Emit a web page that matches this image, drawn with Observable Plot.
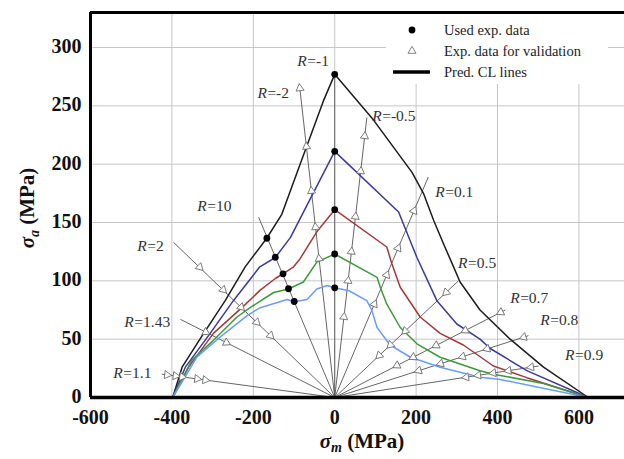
<!DOCTYPE html>
<html><head><meta charset="utf-8">
<script src="https://cdn.jsdelivr.net/npm/d3@7"></script>
<script src="https://cdn.jsdelivr.net/npm/@observablehq/plot@0.6"></script>
<style>body{margin:0;background:#fff} svg{display:block}</style>
</head><body><div id="chart"></div>
<script>
// ---- data (σm, σa in MPa) ----
const xTicks = [-600, -400, -200, 0, 200, 400, 600];
const yTicks = [0, 50, 100, 150, 200, 250, 300];

const seriesNames = ["CL1", "CL2", "CL3", "CL4", "CL5"];
const seriesColors = ["#1c1c1c", "#3a3a9c", "#a03a3a", "#3c9a3c", "#6a9cff"];

const cl1 = [[-398,0],[-375,26],[-322,55],[-269,83],[-220,112],[-167,136.5],[-130,157],[-85,200],[-28,254],[0,277],
  [95,238],[190,193],[218,175],[243,152],[267,132],[292,112],[308,99],[357,75],[431,50],[513,26],[623,0]];
const cl2 = [[-398,0],[-367,26],[-306,55],[-249,83],[-184,112],[-146,120],[-109,137],[0,211],
  [157,159],[202,120],[251,83],[300,63],[357,50],[382,42],[472,23],[623,0]];
const cl3 = [[-398,0],[-359,26],[-298,55],[-228,77],[-183,92],[-146,102],[-127,106],[-101,112],[-85,119],[-44,142],[0,161],
  [128,129],[140,115],[161,94.5],[210,69],[259,55],[316,45],[390,27],[472,17],[623,0]];
const cl4 = [[-398,0],[-351,32],[-298,49],[-240,69],[-208,77],[-150,90],[-113.5,93],[-77,99],[-44,116],[0,123],
  [104,103],[112,94.5],[128,80],[161,60],[202,46],[259,34.5],[357,23],[390,20],[513,12],[623,0]];
const cl5 = [[-398,0],[-339,34.5],[-281,52],[-216,70],[-183,77],[-117,84],[-99.5,82],[-68,84],[-44,93],[-19,96],[0,94],
  [35,91.5],[79,83],[91,75],[104,60],[136,45],[186,34.5],[259,26],[357,17.4],[403,15.7],[623,0]];
const curves = [cl1, cl2, cl3, cl4, cl5];

const usedExp = [[0,277],[0,211],[0,161],[0,123],[0,94],
  [-166.6,136.5],[-146,120.2],[-127,106],[-113.5,93.2],[-99.5,82.3]];

const rayNames = ["-2","-1","-0.5","0.1","0.5","0.7","0.8","0.9","10","2","1.43","1.1"];
const rayTips = [[-87,269],[0,277],[79,240],[230,189],[304,100],[419,75],[476,53],[501,27],[-187,154.5],[-396,133],[-379,67],[-425,20]];
const rayLabelPos = [[-190,261],[-92,288],[92,241],[247,176],[303,115],[431,85],[505,66],[566,36],[-338,164],[-485,130],[-517,65],[-544,20.6]];

const valid = [
  [-85.7,265],[-69.5,215],[-57.2,177],[-47.2,146],[-38.5,119],
  [73.7,224],[63.9,194],[51,155],[41.1,125],[32.9,100],[22.7,69],
  [194.7,160],[155.8,128],[127.8,105],[97.4,80],
  [273.6,90],[173.3,57],[136.8,45],[109.4,36],
  [407.9,73],[320.7,57.4],[249.2,44.6],[192.8,34.5],[153.1,27.4],
  [464.3,51.7],[374.5,41.7],[314.3,35],[260.4,29],[206.5,23],
  [482.6,26],[426.9,23],[389.8,21],[352.6,19],[323,17.4],
  [-331.7,111.7],[-274.1,92.3],[-229.9,77.4],[-191.6,64.5],[-157.7,53.1],
  [-317,56],[-266,47],
  [-412,19.4],[-391,18.5],[-375,17.7],[-338,16],[-318,15]
];

// ---- layout ----
const W = 624, H = 459, mL = 90, mT = 12, mB = 62, mR = 0;
const xDom = [-600, 712], yDom = [0, 330];
const kx = (W - mL - mR) / (xDom[1] - xDom[0]);
const ky = (H - mT - mB) / (yDom[1] - yDom[0]);

const curveRows = curves.flatMap((c, i) => c.map(([sm, sa]) => ({sm, sa, s: seriesNames[i]})));
const rays = rayTips.map(([sm, sa], i) => ({sm, sa, r: rayNames[i]}));
const labels = rayLabelPos.map(([sm, sa], i) => ({sm, sa, r: rayNames[i]}));
const dots = usedExp.map(([sm, sa]) => ({sm, sa}));
const tris = valid.map(([sm, sa]) => {
  const sx = sm * kx, sy = sa * ky;
  let a = Math.atan2(sx, sy) * 180 / Math.PI;
  if (Math.abs(sx) > sy) a += 180;
  return {sm, sa, rot: a};
});

const serif = "'Liberation Serif', 'Times New Roman', serif";

const chart = Plot.plot({
  width: W, height: H,
  marginLeft: mL, marginTop: mT, marginBottom: mB, marginRight: mR,
  style: {fontFamily: serif, background: "#fff"},
  x: {domain: xDom, label: null},
  y: {domain: yDom, label: null},
  color: {domain: seriesNames, range: seriesColors},
  marks: [
    Plot.gridX(xTicks.filter(v => v > -600), {stroke: "#c6c6c6", strokeOpacity: 1, strokeWidth: 1}),
    Plot.gridY(yTicks.filter(v => v > 0), {stroke: "#c6c6c6", strokeOpacity: 1, strokeWidth: 1}),
    Plot.link(rays, {x1: () => 0, y1: () => 0, x2: "sm", y2: "sa", stroke: "#555", strokeWidth: 0.9}),
    Plot.line(curveRows, {x: "sm", y: "sa", z: "s", stroke: "s", strokeWidth: 1.5}),
    Plot.dot(tris, {x: "sm", y: "sa", symbol: "triangle", r: 3, rotate: "rot", fill: "#fff", stroke: "#666", strokeWidth: 0.8}),
    Plot.dot(dots, {x: "sm", y: "sa", r: 3.4, fill: "#000"}),
    Plot.text(labels, {x: "sm", y: "sa", text: () => "R", fontStyle: "italic", textAnchor: "start", fontSize: 15.5, fill: "#333"}),
    Plot.text(labels, {x: "sm", y: "sa", text: d => "=" + d.r, dx: 10, textAnchor: "start", fontSize: 15.5, fill: "#333"}),
    Plot.ruleX([xDom[0]], {stroke: "#000", strokeWidth: 3}),
    Plot.ruleY([yDom[1]], {stroke: "#000", strokeWidth: 3}),
    Plot.ruleY([0], {stroke: "#000", strokeWidth: 3.5}),
    Plot.axisX({ticks: xTicks, tickSize: 0, tickPadding: 12, tickFormat: d => String(d), fontSize: 20, fontWeight: "bold", fill: "#111"}),
    Plot.axisY({ticks: yTicks, tickSize: 0, tickPadding: 9, dy: -1, tickFormat: d => String(d), fontSize: 20, fontWeight: "bold", fill: "#111"})
  ]
});
document.getElementById("chart").appendChild(chart);

// ---- legend & axis titles ----
const svg = d3.select(chart);
const lg = svg.append("g").attr("font-family", serif).attr("font-size", 14.5).attr("fill", "#222").attr("text-anchor", "start");
lg.append("rect").attr("x", 386).attr("y", 14).attr("width", 222).attr("height", 70).attr("fill", "#fff");
lg.append("circle").attr("cx", 412).attr("cy", 30).attr("r", 3.4).attr("fill", "#000");
lg.append("path").attr("d", d3.symbol(d3.symbolTriangle, 28)()).attr("transform", "translate(412,51)")
  .attr("fill", "#fff").attr("stroke", "#666").attr("stroke-width", 0.8);
lg.append("line").attr("x1", 393).attr("x2", 430).attr("y1", 72).attr("y2", 72).attr("stroke", "#000").attr("stroke-width", 3.5);
[["Used exp. data", 30], ["Exp. data for validation", 51], ["Pred. CL lines", 72]].forEach(([t, y]) =>
  lg.append("text").attr("x", 444).attr("y", y).attr("dy", "0.35em").attr("text-anchor", "start").text(t));

const xl = svg.append("text").attr("x", 362).attr("y", 448).attr("text-anchor", "middle")
  .attr("font-family", serif).attr("font-size", 21).attr("font-weight", "bold").attr("fill", "#111");
xl.append("tspan").attr("font-style", "italic").text("σ");
xl.append("tspan").attr("font-style", "italic").attr("font-size", 14).attr("dy", 4).text("m");
xl.append("tspan").attr("dy", -4).text(" (MPa)");

const yl = svg.append("text").attr("transform", "translate(34,208) rotate(-90)").attr("text-anchor", "middle")
  .attr("font-family", serif).attr("font-size", 21).attr("font-weight", "bold").attr("fill", "#111");
yl.append("tspan").attr("font-style", "italic").text("σ");
yl.append("tspan").attr("font-style", "italic").attr("font-size", 14).attr("dy", 5).text("a");
yl.append("tspan").attr("dy", -5).text(" (MPa)");
</script>
</body></html>
